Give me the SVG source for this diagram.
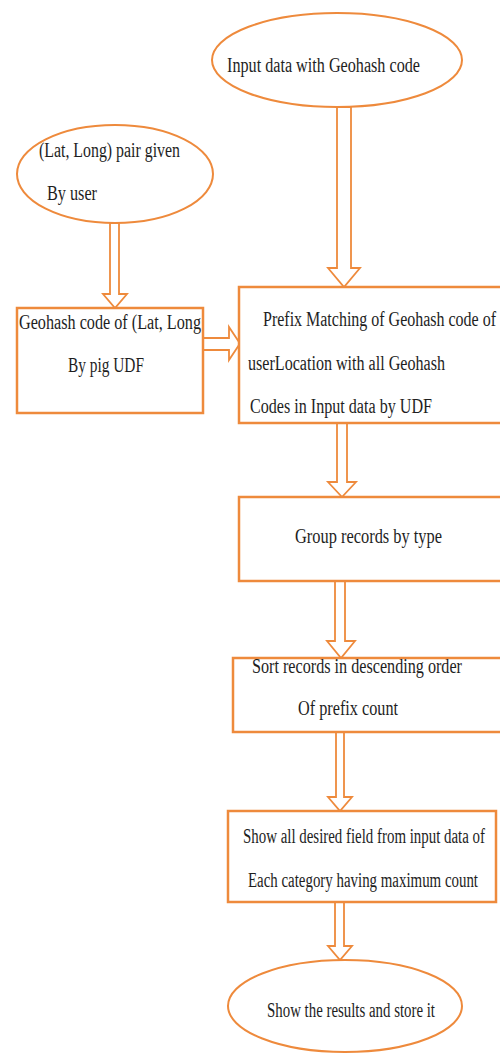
<svg xmlns="http://www.w3.org/2000/svg" width="500" height="1053" viewBox="0 0 500 1053">
<style>
.sh{fill:#fff;stroke:#EE8A3C;stroke-width:2.5}
.el{fill:#fff;stroke:#EE8A3C;stroke-width:2}
.ar{fill:#fff;stroke:#EE8A3C;stroke-width:1.8;stroke-linejoin:miter}
.t{font-family:"Liberation Serif","Times New Roman",serif;font-size:15px;fill:#1e1e1e}
</style>
<rect width="500" height="1053" fill="#fff"/>
<g id="connectors">
<polygon class="ar" points="337,107 351,107 351,268 360,268 344,287 328,268 337,268"/>
<polygon class="ar" points="110,223 119,223 119,294 127,294 115,308 103,294 110,294"/>
<polygon class="ar" points="203,338 229,338 229,327 240,343.5 229,360 229,350 203,350"/>
<polygon class="ar" points="337,423 347,423 347,482 356,482 342,497 328,482 337,482"/>
<polygon class="ar" points="335,581 345,581 345,641 355,641 341,658 327,641 335,641"/>
<polygon class="ar" points="336,732 344,732 344,797 352,797 340,811 328,797 336,797"/>
<polygon class="ar" points="335,902 344,902 344,946 352,946 340,960 328,946 335,946"/>
</g>
<g id="input">
<ellipse class="el" cx="337" cy="60" rx="125" ry="47"/>
<text class="t" transform="translate(227,72) scale(1,1.35)" textLength="193" lengthAdjust="spacingAndGlyphs">Input data with Geohash code</text>
</g>
<g id="latlong">
<ellipse class="el" cx="115" cy="174" rx="98" ry="49"/>
<text class="t" transform="translate(39,157) scale(1,1.35)" textLength="141" lengthAdjust="spacingAndGlyphs">(Lat, Long) pair given</text>
<text class="t" transform="translate(47,200) scale(1,1.35)" textLength="50" lengthAdjust="spacingAndGlyphs">By user</text>
</g>
<g id="geohash">
<rect class="sh" x="17" y="308" width="186" height="105"/>
<text class="t" transform="translate(19,329) scale(1,1.35)" textLength="182" lengthAdjust="spacingAndGlyphs">Geohash code of (Lat, Long</text>
<text class="t" transform="translate(68,372) scale(1,1.35)" textLength="76" lengthAdjust="spacingAndGlyphs">By pig UDF</text>
</g>
<g id="prefix">
<rect class="sh" x="239" y="287" width="270" height="136"/>
<text class="t" transform="translate(263,326) scale(1,1.35)" textLength="233" lengthAdjust="spacingAndGlyphs">Prefix Matching of Geohash code of</text>
<text class="t" transform="translate(248,370) scale(1,1.35)" textLength="197" lengthAdjust="spacingAndGlyphs">userLocation with all Geohash</text>
<text class="t" transform="translate(250,413) scale(1,1.35)" textLength="182" lengthAdjust="spacingAndGlyphs">Codes in Input data by UDF</text>
</g>
<g id="group">
<rect class="sh" x="239" y="497" width="270" height="84"/>
<text class="t" transform="translate(295,543) scale(1,1.35)" textLength="147" lengthAdjust="spacingAndGlyphs">Group records by type</text>
</g>
<g id="sort">
<rect class="sh" x="233" y="658" width="276" height="74"/>
<text class="t" transform="translate(252,673) scale(1,1.35)" textLength="210" lengthAdjust="spacingAndGlyphs">Sort records in descending order</text>
<text class="t" transform="translate(298,715) scale(1,1.35)" textLength="100" lengthAdjust="spacingAndGlyphs">Of prefix count</text>
</g>
<g id="show">
<rect class="sh" x="228" y="811" width="268" height="91"/>
<text class="t" transform="translate(243,843) scale(1,1.35)" textLength="242" lengthAdjust="spacingAndGlyphs">Show all desired field from input data of</text>
<text class="t" transform="translate(248,887) scale(1,1.35)" textLength="230" lengthAdjust="spacingAndGlyphs">Each category having maximum count</text>
</g>
<g id="results">
<ellipse class="el" cx="345" cy="1006" rx="117" ry="46"/>
<text class="t" transform="translate(267,1017) scale(1,1.35)" textLength="168" lengthAdjust="spacingAndGlyphs">Show the results and store it</text>
</g>
</svg>
